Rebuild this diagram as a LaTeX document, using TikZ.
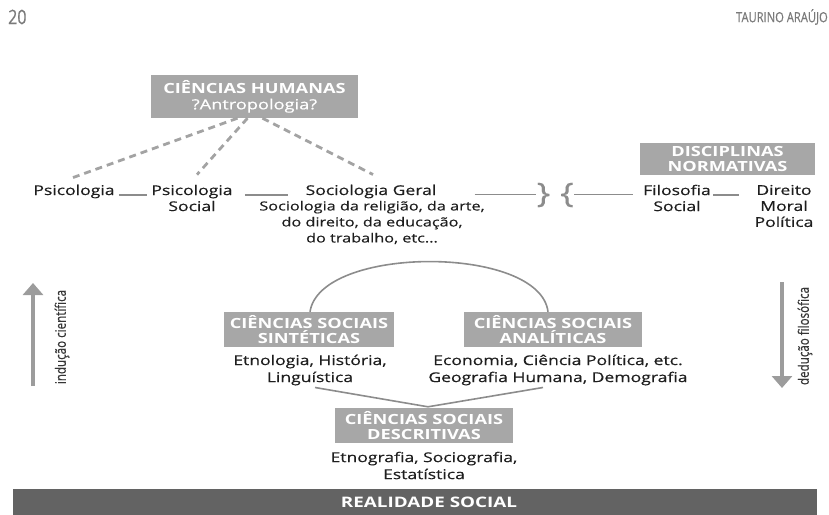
\documentclass[tikz,border=0pt]{standalone}
\usepackage{fontspec}
\setmainfont{Open Sans}[FakeStretch=1.3, UprightFeatures={FakeBold=0.35}]
\newfontfamily\condfont{Open Sans}[FakeStretch=0.8, FakeBold=0.5]
\usetikzlibrary{arrows.meta,calc}
\definecolor{boxgray}{HTML}{A7A7A7}
\definecolor{txt}{HTML}{1E1E1E}
\definecolor{linegray}{HTML}{8C8C8C}
\definecolor{dashgray}{HTML}{A3A3A3}
\definecolor{arrgray}{HTML}{9C9C9C}
\definecolor{hdrgray}{HTML}{7A7A7A}
\definecolor{bargray}{HTML}{636363}
\begin{document}
\begin{tikzpicture}[x=1pt,y=-1pt,
  lbl/.style={inner sep=0pt, align=center, text=txt, font=\fontsize{13.5}{16}\selectfont},
  lblb/.style={inner sep=0pt, align=center, text=txt, font=\fontsize{13.5}{17}\selectfont},
  smalltxt/.style={inner sep=0pt, align=center, text=txt, font=\fontsize{12.5}{16}\selectfont},
  gbox/.style={fill=boxgray, text=white, inner sep=0pt, align=center, font=\fontsize{14}{15}\selectfont\bfseries},
  conn/.style={draw=linegray, line width=1.6pt},
  dashlink/.style={draw=dashgray, line width=2.8pt, dash pattern=on 7pt off 5pt},
  bigarrow/.style={draw=arrgray, line width=4pt, -{Triangle[length=12pt,width=20pt]}},
  rotlbl/.style={inner sep=0pt, text=txt!90, font=\condfont\fontsize{14.5}{16}\selectfont, rotate=90},
  bracetxt/.style={inner sep=0pt, text=linegray, font=\fontsize{28}{30}\selectfont},
  hdr/.style={inner sep=0pt, text=hdrgray, font=\condfont\fontsize{14}{16}\selectfont}
]
\useasboundingbox (0,0) rectangle (829,514);

% header
\node[hdr, anchor=west, font=\condfont\fontsize{20}{22}\selectfont] (pg) at (8,17) {20};
\node[hdr, anchor=east] (auth) at (828,17) {TAURINO ARAÚJO};

% boxes
\node[gbox, minimum width=207pt, minimum height=43pt, font=\fontsize{14}{16}\selectfont\bfseries] (ch) at (254.5,96.5) {CIÊNCIAS HUMANAS\\{\mdseries ?Antropologia?}};
\node[gbox, minimum width=175pt, minimum height=32pt, font=\fontsize{14}{14.5}\selectfont\bfseries] (dn) at (727.5,159) {DISCIPLINAS\\NORMATIVAS};
\node[gbox, minimum width=170pt, minimum height=35pt] (sint) at (309,329.5) {CIÊNCIAS SOCIAIS\\SINTÉTICAS};
\node[gbox, minimum width=178pt, minimum height=35pt] (anal) at (553,329.5) {CIÊNCIAS SOCIAIS\\ANALÍTICAS};
\node[gbox, minimum width=178pt, minimum height=35pt] (desc) at (424,425.5) {CIÊNCIAS SOCIAIS\\DESCRITIVAS};
\node[fill=bargray, inner sep=0pt, minimum width=804pt, minimum height=26pt] (real) at (415,502) {};
\node[inner sep=0pt, text=white, font=\fontsize{14.5}{16}\selectfont\bfseries] (realtxt) at (429,502) {REALIDADE SOCIAL};

% row texts
\node[lbl] (psi) at (74,191.5) {Psicologia};
\node[lbl] (psisoc) at (192,198) {Psicologia\\Social};
\node[lbl] (socg) at (371,191.5) {Sociologia Geral};
\node[smalltxt] (socsub) at (372,222.5) {Sociologia da religião, da arte,\\do direito, da educação,\\do trabalho, etc...};
\node[lbl] (filsoc) at (677,198) {Filosofia\\Social};
\node[lbl] (dir) at (784,206) {Direito\\Moral\\Política};

% braces
\node[bracetxt] (rb) at (543.5,195) {\}};
\node[bracetxt] (lb) at (567,195) {\{};

% lower texts
\node[lblb] (sinttxt) at (310,370) {Etnologia, História,\\Linguística};
\node[lblb] (analtxt) at (558,370) {Economia, Ciência Política, etc.\\Geografia Humana, Demografia};
\node[lblb] (desctxt) at (424,465.5) {Etnografia, Sociografia,\\Estatística};

% rotated labels and arrows
\coordinate (ia0) at (33,386);
\coordinate (ia1) at (33,283);
\draw[bigarrow] (ia0) -- (ia1);
\node[rotlbl] (ind) at (62,337) {indução científica};
\coordinate (da0) at (782,282);
\coordinate (da1) at (782,388);
\draw[bigarrow] (da0) -- (da1);
\node[rotlbl] (ded) at (805,336) {dedução filosófica};

% dashed links
\draw[dashlink] ([xshift=-17pt]ch.south) -- ([xshift=-1pt,yshift=7pt]psi.north);
\draw[dashlink] ([xshift=-7pt]ch.south) -- ([xshift=5pt,yshift=10pt]psisoc.north);
\draw[dashlink] ([xshift=8pt]ch.south) -- ([xshift=2pt,yshift=10pt]socg.north);

% row connectors
\draw[conn] ([xshift=4pt]psi.base east) -- ([xshift=-4pt]psi.base -| psisoc.west);
\draw[conn] ([xshift=12pt]psi.base -| psisoc.east) -- ([xshift=-17pt]psi.base -| socg.west);
\coordinate (bl) at ($(socg.east)+(38,3)$);
\draw[conn] (bl) -- (bl -| rb.west);
\draw[conn] (bl -| lb.east) -- ([xshift=-10pt]bl -| filsoc.west);
\draw[conn] ([xshift=2pt]psi.base -| filsoc.east) -- ([xshift=-15pt]psi.base -| dir.west);

% arc and convergence
\draw[conn] ([xshift=1pt]sint.north) .. controls +(10,-67) and +(-8,-67) .. ([xshift=-5pt]anal.north);
\draw[conn] ([xshift=5pt,yshift=-2pt]sinttxt.south) -- ([xshift=4pt,yshift=1pt]desc.north);
\draw[conn] ([xshift=-15pt,yshift=-2pt]analtxt.south) -- ([xshift=4pt,yshift=1pt]desc.north);
\end{tikzpicture}
\end{document}
